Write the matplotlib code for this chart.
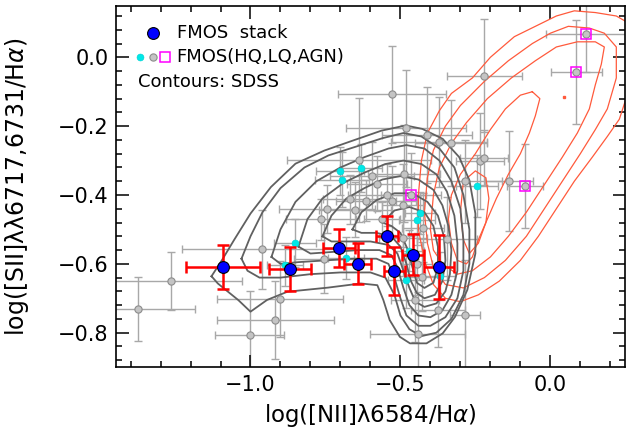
import matplotlib
matplotlib.use('Agg')
import matplotlib.pyplot as plt
from matplotlib.ticker import MultipleLocator

# FMOS stacked spectra
stack_x = [-1.091, -0.869, -0.705, -0.643, -0.546, -0.520, -0.457, -0.372]
stack_y = [-0.609, -0.615, -0.553, -0.600, -0.520, -0.621, -0.573, -0.609]
stack_xerr = [0.123, 0.070, 0.054, 0.046, 0.037, 0.035, 0.037, 0.050]
stack_yerr = [0.065, 0.065, 0.055, 0.060, 0.058, 0.070, 0.060, 0.094]

# FMOS individual galaxies, low quality (grey)
lq_x = [-1.375, -1.265, -0.963, -0.901, -0.918, -1.003, -0.755, -0.765, -0.746, -0.650,
        -0.669, -0.615, -0.638, -0.594, -0.579, -0.545, -0.528, -0.527, -0.482, -0.488,
        -0.493, -0.560, -0.492, -0.426, -0.446, -0.428, -0.450, -0.443, -0.410, -0.371,
        -0.331, -0.344, -0.376, -0.286, -0.285, -0.235, -0.222, -0.221, -0.139]
lq_y = [-0.731, -0.650, -0.558, -0.702, -0.763, -0.808, -0.585, -0.471, -0.440, -0.443,
        -0.413, -0.416, -0.299, -0.345, -0.367, -0.400, -0.416, -0.108, -0.206, -0.338,
        -0.430, -0.471, -0.526, -0.495, -0.601, -0.638, -0.706, -0.803, -0.225, -0.246,
        -0.249, -0.527, -0.733, -0.360, -0.749, -0.302, -0.292, -0.053, -0.360]
lq_xerr = [0.19, 0.236, 0.265, 0.21, 0.195, 0.114, 0.10, 0.116, 0.16, 0.12,
           0.09, 0.10, 0.24, 0.14, 0.10, 0.13, 0.08, 0.18, 0.20, 0.12,
           0.07, 0.06, 0.08, 0.07, 0.05, 0.06, 0.08, 0.16, 0.15, 0.16,
           0.12, 0.10, 0.09, 0.125, 0.05, 0.08, 0.08, 0.125, 0.08]
lq_yerr = [0.092, 0.085, 0.115, 0.11, 0.113, 0.13, 0.10, 0.06, 0.07, 0.08,
           0.07, 0.06, 0.18, 0.10, 0.08, 0.09, 0.10, 0.14, 0.17, 0.14,
           0.12, 0.05, 0.11, 0.10, 0.09, 0.10, 0.12, 0.12, 0.14, 0.13,
           0.125, 0.12, 0.11, 0.12, 0.16, 0.14, 0.08, 0.165, 0.145]

# FMOS individual galaxies, high quality (cyan)
hq_x = [-0.702, -0.696, -0.633, -0.851, -0.884, -0.683, -0.434, -0.446, -0.473, -0.480, -0.367, -0.243]
hq_y = [-0.331, -0.356, -0.321, -0.539, -0.604, -0.583, -0.452, -0.474, -0.562, -0.648, -0.636, -0.373]
hq_xerr = [0.08, 0.09, 0.07, 0.07, 0.06, 0.06, 0.05, 0.06, 0.05, 0.06, 0.05, 0.07]
hq_yerr = [0.07, 0.08, 0.07, 0.07, 0.06, 0.06, 0.06, 0.07, 0.06, 0.08, 0.07, 0.09]

# FMOS AGN (magenta squares)
agn_x = [-0.464, -0.083, 0.086, 0.120]
agn_y = [-0.399, -0.374, -0.043, 0.068]
agn_xerr = [0.10, 0.06, 0.085, 0.135]
agn_yerr = [0.12, 0.122, 0.15, 0.11]

# SDSS contours, star-forming branch (grey)
sf1 = [(-1.130, -0.636), (-1.095, -0.589), (-1.055, -0.531), (-1.000, -0.454), (-0.932, -0.377),
       (-0.850, -0.309), (-0.754, -0.271), (-0.659, -0.242), (-0.563, -0.213), (-0.482, -0.198),
       (-0.427, -0.208), (-0.359, -0.237), (-0.304, -0.290), (-0.270, -0.357), (-0.250, -0.454),
       (-0.250, -0.570), (-0.277, -0.676), (-0.318, -0.754), (-0.359, -0.802), (-0.413, -0.831),
       (-0.468, -0.831), (-0.502, -0.812), (-0.536, -0.763), (-0.557, -0.705), (-0.577, -0.662),
       (-0.632, -0.657), (-0.741, -0.669), (-0.877, -0.681), (-0.945, -0.705), (-1.000, -0.739),
       (-1.041, -0.705), (-1.109, -0.657)]
sf2 = [(-1.03, -0.585), (-1.00, -0.52), (-0.96, -0.45), (-0.90, -0.38), (-0.82, -0.32),
       (-0.74, -0.285), (-0.65, -0.26), (-0.56, -0.235), (-0.49, -0.22), (-0.43, -0.23),
       (-0.37, -0.265), (-0.32, -0.32), (-0.29, -0.40), (-0.27, -0.50), (-0.27, -0.60),
       (-0.29, -0.69), (-0.33, -0.76), (-0.38, -0.80), (-0.43, -0.81), (-0.47, -0.79),
       (-0.50, -0.75), (-0.52, -0.69), (-0.55, -0.64), (-0.60, -0.625), (-0.70, -0.625),
       (-0.80, -0.63), (-0.90, -0.64), (-0.97, -0.64), (-1.01, -0.62)]
sf3 = [(-0.93, -0.58), (-0.90, -0.50), (-0.85, -0.42), (-0.78, -0.36), (-0.70, -0.32),
       (-0.62, -0.29), (-0.54, -0.265), (-0.48, -0.255), (-0.42, -0.265), (-0.37, -0.30),
       (-0.33, -0.36), (-0.30, -0.44), (-0.29, -0.53), (-0.29, -0.62), (-0.31, -0.70),
       (-0.35, -0.755), (-0.40, -0.78), (-0.44, -0.78), (-0.48, -0.75), (-0.50, -0.70),
       (-0.52, -0.64), (-0.54, -0.60), (-0.58, -0.585), (-0.66, -0.585), (-0.75, -0.59),
       (-0.84, -0.595), (-0.90, -0.60)]
sf4 = [(-0.84, -0.55), (-0.81, -0.47), (-0.76, -0.41), (-0.69, -0.365), (-0.62, -0.335),
       (-0.55, -0.31), (-0.49, -0.30), (-0.43, -0.31), (-0.38, -0.34), (-0.345, -0.39),
       (-0.32, -0.46), (-0.31, -0.54), (-0.31, -0.62), (-0.33, -0.69), (-0.36, -0.735),
       (-0.40, -0.755), (-0.44, -0.75), (-0.47, -0.72), (-0.49, -0.67), (-0.51, -0.61),
       (-0.53, -0.575), (-0.57, -0.56), (-0.64, -0.56), (-0.72, -0.565), (-0.80, -0.57)]
sf5 = [(-0.76, -0.52), (-0.73, -0.46), (-0.68, -0.41), (-0.62, -0.38), (-0.56, -0.355),
       (-0.50, -0.345), (-0.44, -0.355), (-0.39, -0.385), (-0.36, -0.43), (-0.34, -0.49),
       (-0.33, -0.56), (-0.335, -0.63), (-0.35, -0.68), (-0.38, -0.715), (-0.42, -0.725),
       (-0.45, -0.71), (-0.47, -0.67), (-0.49, -0.62), (-0.51, -0.57), (-0.54, -0.545),
       (-0.60, -0.535), (-0.67, -0.535), (-0.73, -0.535)]
sf6 = [(-0.66, -0.50), (-0.63, -0.45), (-0.58, -0.415), (-0.52, -0.395), (-0.46, -0.395),
       (-0.41, -0.42), (-0.375, -0.46), (-0.355, -0.52), (-0.35, -0.59), (-0.36, -0.65),
       (-0.385, -0.69), (-0.42, -0.70), (-0.445, -0.685), (-0.465, -0.65), (-0.48, -0.60),
       (-0.50, -0.55), (-0.53, -0.52), (-0.58, -0.51), (-0.63, -0.51)]
sf7 = [(-0.56, -0.48), (-0.52, -0.445), (-0.47, -0.435), (-0.42, -0.45), (-0.39, -0.49),
       (-0.375, -0.55), (-0.375, -0.61), (-0.39, -0.655), (-0.42, -0.67), (-0.445, -0.655),
       (-0.46, -0.61), (-0.475, -0.56), (-0.50, -0.51), (-0.53, -0.49)]

# SDSS contours, AGN branch (red)
agn1 = [(-0.44, -0.40), (-0.43, -0.30), (-0.41, -0.22), (-0.37, -0.155), (-0.33, -0.105),
        (-0.26, -0.06), (-0.20, 0.0), (-0.12, 0.06), (-0.05, 0.09), (0.02, 0.12),
        (0.08, 0.135), (0.15, 0.13), (0.22, 0.12), (0.26, 0.10), (0.26, -0.10),
        (0.23, -0.18), (0.19, -0.23), (0.14, -0.29), (0.08, -0.36), (0.02, -0.44),
        (-0.04, -0.52), (-0.10, -0.59), (-0.17, -0.65), (-0.24, -0.69), (-0.30, -0.71),
        (-0.35, -0.70), (-0.39, -0.66), (-0.42, -0.59), (-0.44, -0.50)]
agn2 = [(-0.42, -0.45), (-0.41, -0.35), (-0.39, -0.27), (-0.35, -0.20), (-0.30, -0.14),
        (-0.22, -0.07), (-0.14, -0.01), (-0.06, 0.04), (0.0, 0.07), (0.06, 0.09),
        (0.13, 0.085), (0.18, 0.07), (0.22, 0.03), (0.22, -0.06), (0.19, -0.15),
        (0.15, -0.21), (0.10, -0.28), (0.04, -0.36), (-0.02, -0.44), (-0.08, -0.52),
        (-0.15, -0.59), (-0.22, -0.64), (-0.29, -0.67), (-0.35, -0.66), (-0.39, -0.61),
        (-0.41, -0.54)]
agn3 = [(-0.40, -0.50), (-0.39, -0.40), (-0.37, -0.32), (-0.33, -0.25), (-0.28, -0.19),
        (-0.21, -0.12), (-0.13, -0.06), (-0.05, -0.01), (0.02, 0.03), (0.09, 0.045),
        (0.15, 0.045), (0.18, 0.03), (0.17, -0.02), (0.15, -0.08), (0.13, -0.15),
        (0.09, -0.22), (0.04, -0.29), (-0.02, -0.37), (-0.08, -0.45), (-0.14, -0.52),
        (-0.20, -0.58), (-0.26, -0.62), (-0.31, -0.63), (-0.36, -0.60), (-0.39, -0.56)]
agn4 = [(-0.06, -0.10), (-0.035, -0.12), (-0.05, -0.17), (-0.07, -0.22), (-0.10, -0.28),
        (-0.14, -0.34), (-0.18, -0.41), (-0.21, -0.47), (-0.24, -0.53), (-0.26, -0.58),
        (-0.28, -0.60), (-0.31, -0.59), (-0.33, -0.54), (-0.34, -0.47), (-0.33, -0.40),
        (-0.30, -0.34), (-0.25, -0.28), (-0.20, -0.21), (-0.15, -0.15), (-0.10, -0.11)]
agn5 = [(-0.29, -0.36), (-0.25, -0.33), (-0.215, -0.35), (-0.205, -0.41), (-0.215, -0.48),
        (-0.24, -0.54), (-0.27, -0.57), (-0.29, -0.53), (-0.30, -0.45)]
agn_dot = [(0.044, -0.116)]

sf_contours = [sf1, sf2, sf3, sf4, sf5, sf6, sf7]
agn_contours = [agn1, agn2, agn3, agn4, agn5]

plt.rcParams['font.family'] = ['DejaVu Sans']
plt.rcParams['mathtext.fontset'] = 'dejavusans'

fig = plt.figure(figsize=(6.42, 4.36), dpi=100)
ax = fig.add_axes([0.18, 0.158, 0.794, 0.829])

ebar_grey = '#A8A8A8'
# error bars of individual galaxies first
for xs, ys, xe, ye in [(lq_x, lq_y, lq_xerr, lq_yerr),
                       (hq_x, hq_y, hq_xerr, hq_yerr),
                       (agn_x, agn_y, agn_xerr, agn_yerr)]:
    ax.errorbar(xs, ys, xerr=xe, yerr=ye, fmt='none', ecolor=ebar_grey,
                elinewidth=1.0, capsize=3, capthick=1.0, zorder=1)

def closed(pts):
    xs = [p[0] for p in pts] + [pts[0][0]]
    ys = [p[1] for p in pts] + [pts[0][1]]
    return xs, ys

for c in agn_contours:
    xs, ys = closed(c)
    ax.plot(xs, ys, color='#FF5A3C', lw=0.9, zorder=2)
ax.plot([p[0] for p in agn_dot], [p[1] for p in agn_dot], 's', color='#FF5A3C',
        ms=1.5, zorder=2)
for c in sf_contours:
    xs, ys = closed(c)
    ax.plot(xs, ys, color='#606060', lw=1.3, zorder=2)

grey_pt = dict(ms=5.2, mfc='#C4C4C4', mec='#8C8C8C', mew=0.8)
cyan_pt = dict(ms=5.0, mfc='#00E8E8', mec='#00D0D0', mew=0.4)
ax.plot(lq_x, lq_y, 'o', zorder=3, **grey_pt)
ax.plot(agn_x, agn_y, 'o', zorder=3, **grey_pt)
ax.plot(agn_x, agn_y, 's', ms=7.5, mfc='none', mec='#FF00FF', mew=1.1, zorder=4)
ax.plot(hq_x, hq_y, 'o', zorder=4, **cyan_pt)

ax.errorbar(stack_x, stack_y, xerr=stack_xerr, yerr=stack_yerr, fmt='none',
            ecolor='red', elinewidth=1.8, capsize=4, capthick=1.8, zorder=5)
ax.plot(stack_x, stack_y, 'o', ms=8.5, mfc='#0000FF', mec='black', mew=0.8, zorder=6)

# legend drawn by hand, as in the original
tr = ax.transAxes
ax.plot([0.073], [0.923], 'o', ms=8.5, mfc='#0000FF', mec='black', mew=0.8, transform=tr)
ax.text(0.12, 0.923, 'FMOS  stack', transform=tr, fontsize=13, va='center')
ax.plot([0.048], [0.858], 'o', transform=tr, **cyan_pt)
ax.plot([0.073], [0.858], 'o', transform=tr, **grey_pt)
ax.plot([0.097], [0.858], 's', ms=7.5, mfc='none', mec='#FF00FF', mew=1.1, transform=tr)
ax.text(0.12, 0.858, 'FMOS(HQ,LQ,AGN)', transform=tr, fontsize=13, va='center')
ax.text(0.045, 0.789, 'Contours: SDSS', transform=tr, fontsize=13, va='center')

ax.set_xlim(-1.45, 0.25)
ax.set_ylim(-0.9, 0.15)
ax.xaxis.set_major_locator(MultipleLocator(0.5))
ax.xaxis.set_minor_locator(MultipleLocator(0.1))
ax.yaxis.set_major_locator(MultipleLocator(0.2))
ax.yaxis.set_minor_locator(MultipleLocator(0.04))
ax.xaxis.set_major_formatter(plt.FuncFormatter(lambda v, p: f'{v:.1f}'.replace('-', '\u2212')))
ax.yaxis.set_major_formatter(plt.FuncFormatter(lambda v, p: f'{v:.1f}'.replace('-', '\u2212')))
ax.tick_params(which='both', direction='in', top=True, right=True, labelsize=15, width=1.1)
ax.tick_params(which='major', length=9, pad=5)
ax.tick_params(axis='x', which='major', pad=6)
ax.tick_params(which='minor', length=4.5)
for s in ax.spines.values():
    s.set_linewidth(1.2)

ax.set_xlabel('log([NII]\u03bb6584/H$\\alpha$)', fontsize=16.5)
ax.set_ylabel('log([SII]\u03bb\u03bb6717,6731/H$\\alpha$)', fontsize=17)
ax.xaxis.set_label_coords(0.5, -0.097)
ax.yaxis.set_label_coords(-0.165, 0.5)

fig.savefig('out.png', dpi=100)
